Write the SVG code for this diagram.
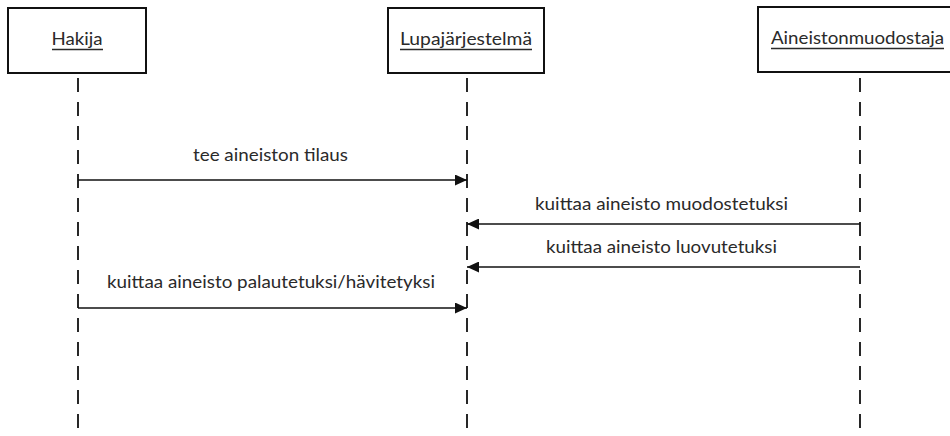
<svg xmlns="http://www.w3.org/2000/svg" width="950" height="436" viewBox="0 0 950 436">
<style>
.box{fill:#fff;stroke:#111;stroke-width:2}
.life{stroke:#111;stroke-width:1.8;stroke-dasharray:14 10;fill:none}
.msg{stroke:#111;stroke-width:1.6;fill:none}
.t{font-family:Lato,"Liberation Sans",sans-serif;font-size:17px;fill:#2a2a2a;text-anchor:middle}
.ul{stroke:#2a2a2a;stroke-width:1.3}
</style>
<defs>
<marker id="ah" markerUnits="userSpaceOnUse" markerWidth="13" markerHeight="11" refX="12" refY="5.5" orient="auto">
<path d="M0,0 L12,5.5 L0,11 Z" fill="#111"/>
</marker>
</defs>
<rect width="950" height="436" fill="#fff"/>
<g id="lifelines">
<line class="life" x1="78" y1="78" x2="78" y2="436"/>
<line class="life" x1="467" y1="78" x2="467" y2="436"/>
<line class="life" x1="860" y1="78" x2="860" y2="436"/>
</g>
<g id="hakija">
<rect class="box" x="8" y="8" width="138" height="65"/>
<text class="t" x="77" y="45" textLength="51" lengthAdjust="spacingAndGlyphs">Hakija</text>
<line class="ul" x1="52" y1="49.5" x2="103" y2="49.5"/>
</g>
<g id="lupajarjestelma">
<rect class="box" x="388" y="8" width="156" height="65"/>
<text class="t" x="466" y="45" textLength="132" lengthAdjust="spacingAndGlyphs">Lupajärjestelmä</text>
<line class="ul" x1="400" y1="49.5" x2="532" y2="49.5"/>
</g>
<g id="aineistonmuodostaja">
<rect class="box" x="758" y="7" width="210" height="65"/>
<text class="t" x="857.5" y="44" textLength="173" lengthAdjust="spacingAndGlyphs">Aineistonmuodostaja</text>
<line class="ul" x1="771" y1="48.5" x2="944" y2="48.5"/>
</g>
<g id="connectors">
<line class="msg" x1="78" y1="180" x2="467" y2="180" marker-end="url(#ah)"/>
<text class="t" x="270.5" y="161" textLength="155" lengthAdjust="spacingAndGlyphs">tee aineiston tilaus</text>
<line class="msg" x1="860" y1="224" x2="467" y2="224" marker-end="url(#ah)"/>
<text class="t" x="661.5" y="210" textLength="253" lengthAdjust="spacingAndGlyphs">kuittaa aineisto muodostetuksi</text>
<line class="msg" x1="860" y1="267" x2="467" y2="267" marker-end="url(#ah)"/>
<text class="t" x="661.5" y="253" textLength="231" lengthAdjust="spacingAndGlyphs">kuittaa aineisto luovutetuksi</text>
<line class="msg" x1="78" y1="308" x2="467" y2="308" marker-end="url(#ah)"/>
<text class="t" x="271" y="288" textLength="328" lengthAdjust="spacingAndGlyphs">kuittaa aineisto palautetuksi/hävitetyksi</text>
</g>
</svg>
